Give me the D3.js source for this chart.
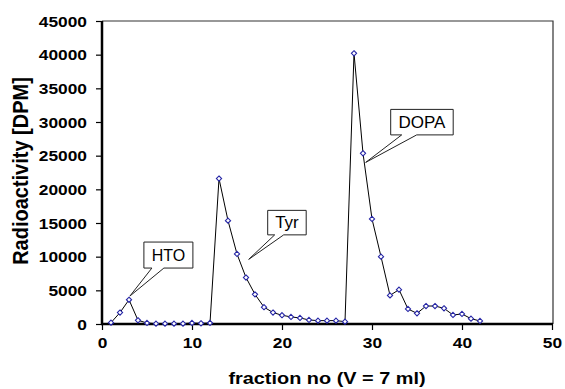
<!DOCTYPE html>
<html><head><meta charset="utf-8">
<script src="https://cdn.jsdelivr.net/npm/d3@7"></script>
<style>body{margin:0;background:#fff}svg{display:block}text{font-family:Arial,"Liberation Sans",Helvetica,sans-serif}</style>
</head><body>
<svg id="c" width="565" height="389"></svg>
<script>
const fractions = d3.range(1, 43);
const dpm = [200,1700,3600,550,150,50,50,50,50,150,100,150,21600,15350,10400,6900,4400,2500,1700,1300,1050,900,600,500,500,500,350,40200,25350,15600,10000,4250,5100,2230,1580,2670,2670,2330,1340,1490,790,450];
const xTicks = [0,10,20,30,40,50];
const yTicks = [0,5000,10000,15000,20000,25000,30000,35000,40000,45000];
const labels = ["HTO","Tyr","DOPA"];
const labelTipX = [3.1, 16.3, 29.3];
const labelTipY = [4150, 9600, 24000];
const xTitle = "fraction no (V = 7 ml)";
const yTitle = "Radioactivity [DPM]";

const svg = d3.select("#c");
const L=102, R=552, T=21, B=324;
const x = d3.scaleLinear().domain([0,50]).range([L,R]);
const y = d3.scaleLinear().domain([0,45000]).range([B,T]);

svg.append("path").attr("d",`M${L},${T}H${R+1}V${B}`).attr("fill","none").attr("stroke","#333").attr("stroke-width",1.2);

const ya = svg.append("g").attr("transform",`translate(${L},0)`)
  .call(d3.axisLeft(y).tickValues(yTicks).tickSize(6).tickPadding(9).tickFormat(d3.format("d")));
ya.select(".domain").attr("stroke","#000").attr("stroke-width",2.5).attr("d",`M0,${T}V${B+1}`);
ya.selectAll(".tick line").attr("stroke","#000").attr("stroke-width",1.2);
ya.selectAll(".tick text").style("font-size","14px").style("font-weight","bold").attr("fill","#000")
  .attr("dy","0.36em")
  .attr("transform",function(){const xx=+d3.select(this).attr("x");return `translate(${xx},0) scale(1.24,1)`;}).attr("x",0);

const xa = svg.append("g").attr("transform",`translate(0,${B})`)
  .call(d3.axisBottom(x).tickValues(xTicks).tickSize(6).tickPadding(8).tickFormat(d3.format("d")));
xa.select(".domain").attr("stroke","#000").attr("stroke-width",2.5).attr("d",`M${L-1},0H${R+1}`);
xa.selectAll(".tick line").attr("stroke","#000").attr("stroke-width",1.2);
xa.selectAll(".tick text").style("font-size","14px").style("font-weight","bold").attr("fill","#000")
  .attr("transform","scale(1.24,1)");

const pts = fractions.map((f,i)=>[f,dpm[i]]);
svg.append("path").datum(pts).attr("fill","none").attr("stroke","#000").attr("stroke-width",1)
  .attr("d",d3.line().x(d=>x(d[0])).y(d=>y(d[1])));
svg.append("g").selectAll("path").data(pts).join("path")
  .attr("transform",d=>`translate(${x(d[0])},${y(d[1])})`)
  .attr("d","M0,-2.6L2.6,0L0,2.6L-2.6,0Z").attr("fill","#fff").attr("stroke","#2626a6").attr("stroke-width",1.1);

const boxes = [
  {dx:14, dy:-54, w:49, h:26, w1:22, w2:34, fs:16},
  {dx:19, dy:-49, w:38.5, h:24.5, w1:26, w2:35, fs:17},
  {dx:25, dy:-53, w:62.5, h:25.5, w1:36, w2:51, fs:17}
];
labels.forEach((lab,i)=>{
  const tx=x(labelTipX[i]), ty=y(labelTipY[i]), b=boxes[i];
  const bx=tx+b.dx, by=ty+b.dy, bb=by+b.h;
  svg.append("path")
    .attr("d",`M${bx},${by}H${bx+b.w}V${bb}H${tx+b.w2}L${tx},${ty}L${tx+b.w1},${bb}H${bx}Z`)
    .attr("fill","#fff").attr("stroke","#222").attr("stroke-width",1);
  svg.append("text").attr("x",bx+b.w/2).attr("y",bb-7).attr("text-anchor","middle")
    .attr("font-size",b.fs).attr("fill","#000").text(lab);
});

svg.append("text").attr("transform","translate(327,384) scale(1.17,1)").attr("text-anchor","middle")
  .style("font-size","17px").style("font-weight","bold").text(xTitle);
svg.append("text").attr("transform","translate(28,171) rotate(-90) scale(1,1.14)").attr("text-anchor","middle")
  .style("font-size","20px").style("font-weight","bold").text(yTitle);
</script>
</body></html>
